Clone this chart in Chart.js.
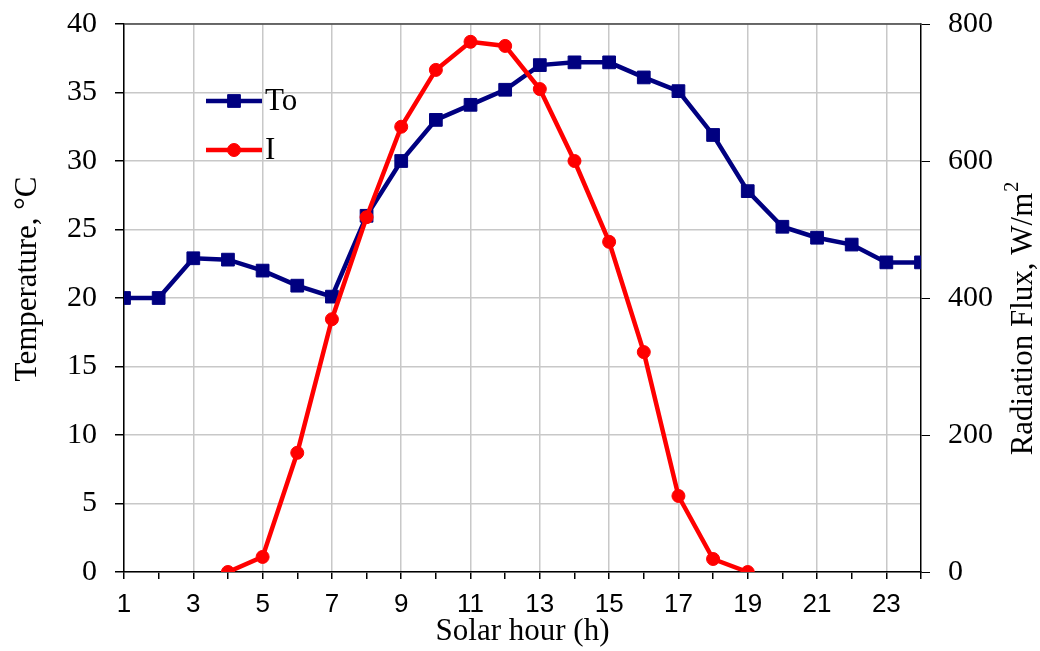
<!DOCTYPE html>
<html>
<head>
<meta charset="utf-8">
<script src="https://cdn.jsdelivr.net/npm/chart.js@4/dist/chart.umd.min.js"></script>
<style>
  html, body { margin: 0; padding: 0; background: #fff; }
  #wrap { width: 1040px; height: 651px; position: relative; }
</style>
</head>
<body>
<div id="wrap"><canvas id="myChart"></canvas></div>
<script>
// ambient temperature, every solar hour
const hours = [1, 2, 3, 4, 5, 6, 7, 8, 9, 10, 11, 12, 13, 14, 15, 16, 17, 18, 19, 20, 21, 22, 23, 24];
const tempTo = [20.0, 20.0, 22.9, 22.8, 22.0, 20.9, 20.1, 26.0, 30.0, 33.0, 34.1, 35.2,
                37.0, 37.2, 37.2, 36.1, 35.1, 31.9, 27.8, 25.2, 24.4, 23.9, 22.6, 22.6];

// solar radiation, only sun hours
const sunHours = [4, 5, 6, 7, 8, 9, 10, 11, 12, 13, 14, 15, 16, 17, 18, 19];
const radiation = [0, 22, 174, 369, 518, 650, 733, 774, 768, 705, 600, 482, 321, 111, 19, 0];

const seriesNames = ['To', 'I'];
const xTitle = 'Solar hour (h)';
const yTitle = 'Temperature, \u00B0C';
const y2Title = 'Radiation Flux, W/m';
const y2Sup = '2';

const SERIF = '"Liberation Serif", "Times New Roman", serif';
const SANS = '"Liberation Sans", Arial, sans-serif';
const GRID = '#c8c8c8';

function main() {
  const toPoints = hours.map((h, i) => ({x: h, y: tempTo[i]}));
  const iPoints = sunHours.map((h, i) => ({x: h, y: radiation[i]}));

  // top frame line, legend inside the plot, both y titles reading upwards
  const extras = {
    id: 'extras',
    afterDraw(chart) {
      const ctx = chart.ctx;
      const a = chart.chartArea;
      ctx.save();
      ctx.strokeStyle = '#444';
      ctx.lineWidth = 1.5;
      ctx.beginPath();
      ctx.moveTo(a.left, a.top);
      ctx.lineTo(a.right, a.top);
      ctx.stroke();

      // legend
      chart.data.datasets.forEach((ds, k) => {
        const y = a.top + 77 + k * 49;
        const x0 = a.left + 82, x1 = a.left + 138;
        ctx.strokeStyle = ds.borderColor;
        ctx.lineWidth = ds.borderWidth;
        ctx.beginPath();
        ctx.moveTo(x0, y);
        ctx.lineTo(x1, y);
        ctx.stroke();
        ctx.fillStyle = ds.backgroundColor;
        ctx.lineWidth = 1;
        Chart.helpers.drawPoint(ctx, {
          pointStyle: ds.pointStyle, radius: ds.pointRadius, borderWidth: 1
        }, (x0 + x1) / 2, y);
        ctx.fillStyle = '#000';
        ctx.font = '31px ' + SERIF;
        ctx.textAlign = 'left';
        ctx.textBaseline = 'middle';
        ctx.fillText(ds.label, x1 + 3, y + 1);
      });

      ctx.fillStyle = '#000';
      ctx.textBaseline = 'middle';

      // left title
      ctx.save();
      ctx.translate(28, 279);
      ctx.rotate(-Math.PI / 2);
      ctx.font = '31px ' + SERIF;
      ctx.textAlign = 'center';
      ctx.fillText(yTitle, 0, 0);
      ctx.restore();

      // right title with superscript
      ctx.save();
      ctx.translate(1024, 319);
      ctx.rotate(-Math.PI / 2);
      ctx.font = '31px ' + SERIF;
      const w = ctx.measureText(y2Title).width;
      ctx.font = '20px ' + SERIF;
      const ws = ctx.measureText(y2Sup).width;
      const start = -(w + ws) / 2;
      ctx.font = '31px ' + SERIF;
      ctx.textAlign = 'left';
      ctx.fillText(y2Title, start, 0);
      ctx.font = '20px ' + SERIF;
      ctx.fillText(y2Sup, start + w + 1, -11);
      ctx.restore();

      ctx.restore();
    }
  };

  const chartDiv = document.getElementById('myChart');
  const chart = new Chart(chartDiv, {
    type: 'line',
    data: {
      datasets: [{
        label: seriesNames[0],
        data: toPoints,
        borderColor: '#000080',
        backgroundColor: '#000080',
        borderWidth: 4.5,
        pointStyle: 'rect',
        pointRadius: 9,
        pointBorderWidth: 1,
        yAxisID: 'y',
        order: 1
      }, {
        label: seriesNames[1],
        data: iPoints,
        borderColor: '#ff0000',
        backgroundColor: '#ff0000',
        borderWidth: 4.5,
        pointStyle: 'circle',
        pointRadius: 6.5,
        pointBorderWidth: 1,
        yAxisID: 'y2',
        order: 0
      }]
    },
    plugins: [extras],
    options: {
      responsive: false,
      animation: false,
      layout: {padding: {top: 24, left: 0, right: 0, bottom: 0}},
      plugins: {legend: {display: false}, tooltip: {enabled: false}},
      scales: {
        x: {
          type: 'linear',
          min: 1,
          max: 24,
          afterFit: s => { s.height = 79; s.paddingLeft = 0; s.paddingRight = 0; },
          ticks: {
            stepSize: 1,
            autoSkip: false,
            maxRotation: 0,
            padding: 10,
            color: '#000',
            font: {family: SANS, size: 26},
            callback: v => (v % 2 === 1 ? String(v) : '')
          },
          grid: {
            color: c => (c.tick && c.tick.value % 2 === 1 ? GRID : 'rgba(0,0,0,0)'),
            tickColor: '#000',
            tickLength: 7,
            lineWidth: 1.5
          },
          border: {color: '#000', width: 1.5},
          title: {
            display: true, text: xTitle, color: '#000',
            font: {family: SERIF, size: 31}, padding: {top: 0, bottom: 1}
          }
        },
        y: {
          position: 'left',
          min: 0,
          max: 40,
          afterFit: s => { s.width = 124; s.paddingTop = 0; s.paddingBottom = 0; },
          ticks: {
            stepSize: 2.5,
            padding: 18,
            color: '#000',
            font: {family: SERIF, size: 30},
            callback: v => (v % 5 === 0 ? String(v) : '')
          },
          grid: {color: GRID, tickColor: '#000', tickLength: 9, lineWidth: 1.5},
          border: {color: '#000', width: 1.5}
        },
        y2: {
          position: 'right',
          min: 0,
          max: 800,
          afterFit: s => { s.width = 119; s.paddingTop = 0; s.paddingBottom = 0; },
          ticks: {
            stepSize: 200,
            padding: 18,
            color: '#000',
            font: {family: SERIF, size: 30}
          },
          grid: {drawOnChartArea: false, tickColor: '#000', tickLength: 9},
          border: {color: '#000', width: 1.5}
        }
      }
    }
  });
  chart.update();
}

document.addEventListener('DOMContentLoaded', function () {
  const c = document.getElementById('myChart');
  c.width = 1040;
  c.height = 651;
  main();
});
</script>
</body>
</html>
